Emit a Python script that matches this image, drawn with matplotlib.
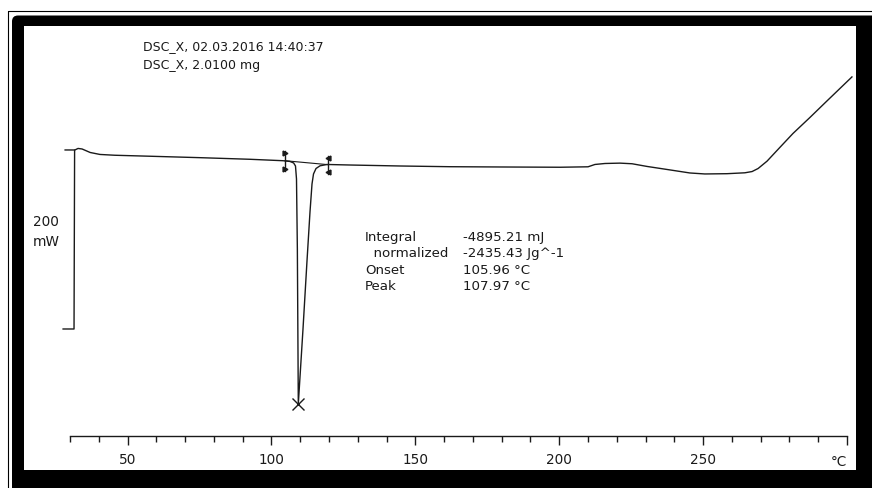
import matplotlib.pyplot as plt
from matplotlib.patches import Rectangle, FancyBboxPatch
from matplotlib.transforms import Affine2D
from matplotlib.ticker import FixedLocator

# DSC curve: temperature (°C) and heat flow (mW)
temp = [31.7, 32.8, 34.2, 37.0, 40.4, 45.6, 57.8, 75.2, 92.5, 104.0, 106.4, 107.7,
        108.35, 108.7, 109.0, 109.33, 110.96, 112.35, 113.39, 114.09, 114.61, 115.48,
        116.87, 119.3, 127.3, 144.7, 162.0, 179.4, 200.3, 210.0, 212.4, 215.9, 221.1,
        225.3, 230.5, 238.5, 245.4, 250.6, 258.3, 264.5, 267.0, 269.1, 272.2, 276.7,
        281.2, 287.1, 293.0, 301.7]
heat_flow = [200.0, 201.7, 201.1, 197.2, 195.0, 194.1, 193.0, 191.4, 189.6, 188.0, 187.2, 185.5,
             182.1, 167.6, 89.4, -83.8, 0.0, 76.0, 130.7, 162.0, 173.2, 179.3,
             182.3, 183.8, 183.2, 182.1, 181.3, 181.0, 180.7, 181.2, 183.8, 184.9, 185.3,
             184.6, 181.6, 177.7, 174.3, 173.2, 173.5, 174.5, 175.9, 179.3, 187.5, 203.0,
             218.4, 236.3, 254.7, 281.6]

# peak evaluation
peak_temp, peak_flow = 109.33, -83.8
limit_temps = [104.7, 119.6]
limit_flows = [188.0, 183.6]
limit_spans = [(176.5, 198.9), (173.2, 193.3)]
scale_bar_mw = 200

major_ticks = [50, 100, 150, 200, 250]
header = ["DSC_X, 02.03.2016 14:40:37", "DSC_X, 2.0100 mg"]
result_labels = ["Integral", "  normalized", "Onset", "Peak"]
result_values = ["-4895.21 mJ", "-2435.43 Jg^-1", "105.96 °C", "107.97 °C"]

W, H = 872, 489
fig = plt.figure(figsize=(W / 100, H / 100), dpi=100)
fig.patch.set_facecolor("white")
px = Affine2D().scale(1 / W, -1 / H).translate(0, 1) + fig.transFigure

# scanned frame
fig.patches.append(Rectangle((8, 11.5), 900, 500, fill=False, ec="black", lw=0.8,
                             transform=px, zorder=-10))
fig.patches.append(FancyBboxPatch((12, 16.5), 900, 500, boxstyle="round,pad=0,rounding_size=6",
                                  fc="black", ec="none", transform=px, zorder=-9))
fig.patches.append(Rectangle((24, 27), 832, 444, fc="white", ec="none", transform=px, zorder=-8))

ax = fig.add_axes([70 / W, 52 / H, 782.8 / W, 410 / H])
ax.set_facecolor("none")
ax.set_xlim(30, 302)
ax.set_ylim(-119.55, 338.5)

ink = "#1a1a1a"
ax.plot(temp, heat_flow, color=ink, lw=1.0, clip_on=False)
ax.plot([peak_temp], [peak_flow], marker="x", ms=8, mew=1.0, color=ink, clip_on=False)

# integration limits and baseline
ax.plot(limit_temps, limit_flows, color=ink, lw=0.8)
for t, (lo, hi), m in zip(limit_temps, limit_spans, [">", "<"]):
    ax.plot([t, t], [lo, hi], color=ink, lw=1.0)
    ax.plot([t, t], [lo + 2.5, hi - 2.5], ls="none", marker=m, ms=3.5, color=ink)

# 200 mW scale bar
ax.plot([28.3, 31.6, 31.4, 27.6], [scale_bar_mw, scale_bar_mw, 0, 0], color=ink, lw=1.0, clip_on=False)

for s in ["top", "left", "right"]:
    ax.spines[s].set_visible(False)
ax.spines["bottom"].set_bounds(30, 300)
ax.spines["bottom"].set_linewidth(1.0)
ax.spines["bottom"].set_color(ink)
ax.set_yticks([])
ax.xaxis.set_major_locator(FixedLocator(major_ticks + [300]))
ax.xaxis.set_minor_locator(FixedLocator([t for t in range(30, 300, 10) if t not in major_ticks]))
ax.set_xticklabels([str(t) for t in major_ticks] + [""])
ax.tick_params(axis="x", which="major", length=6.8, width=1.0, color=ink, pad=4.5,
               labelsize=9.8, labelcolor=ink)
ax.tick_params(axis="x", which="minor", length=4.3, width=1.0, color=ink)

fig.text(839, 462, "°C", transform=px, ha="center", va="center", fontsize=9.8, color=ink)
fig.text(46, 222, "200", transform=px, ha="center", va="center", fontsize=9.8, color=ink)
fig.text(46, 242, "mW", transform=px, ha="center", va="center", fontsize=9.8, color=ink)

for i, line in enumerate(header):
    fig.text(143, 46.5 + 18.5 * i, line, transform=px, ha="left", va="center", fontsize=9.0, color=ink)

for i, (lab, val) in enumerate(zip(result_labels, result_values)):
    y = 237 + 16.5 * i
    fig.text(365, y, lab, transform=px, ha="left", va="center", fontsize=9.6, color=ink)
    fig.text(463, y, val, transform=px, ha="left", va="center", fontsize=9.6, color=ink)

fig.savefig("out.png", dpi=100)
